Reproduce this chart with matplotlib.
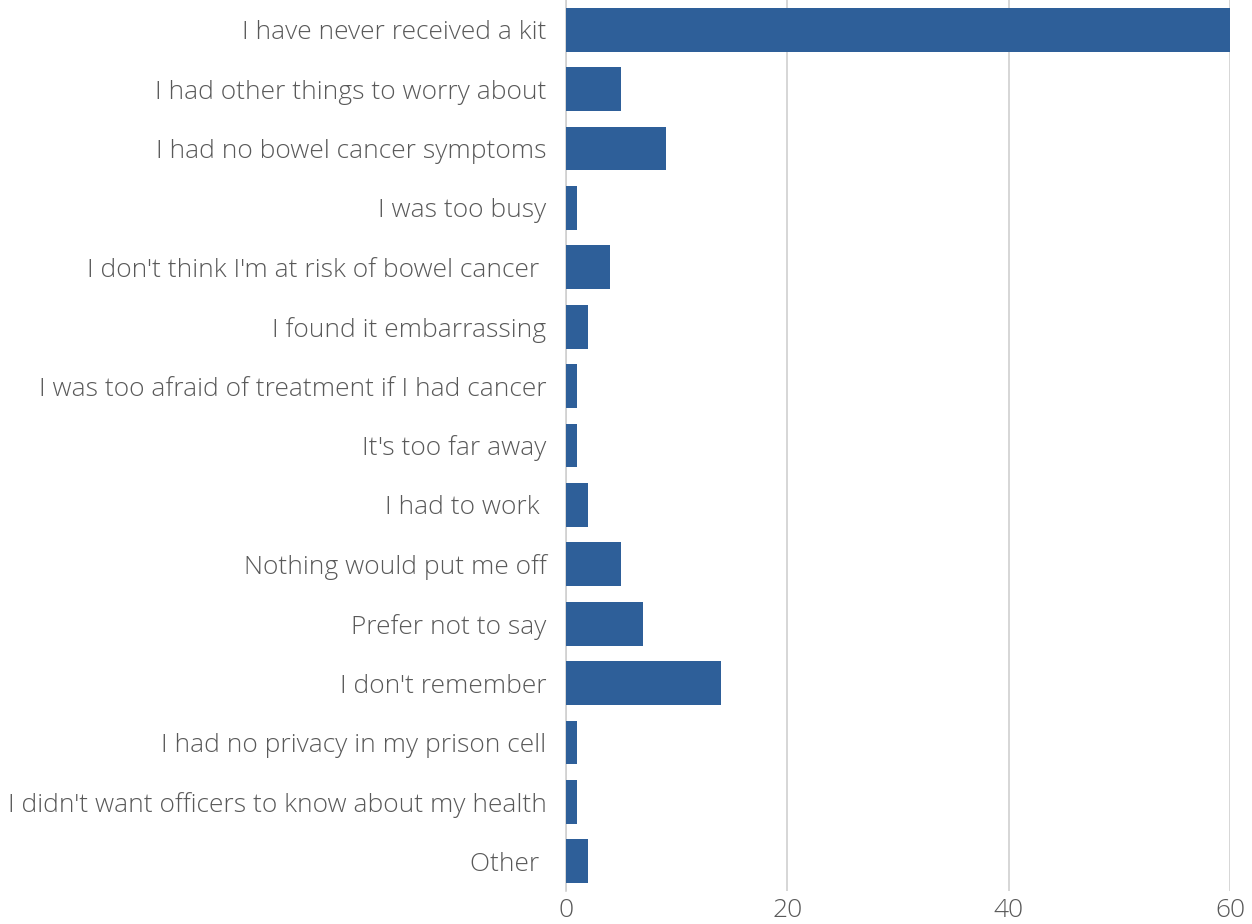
import matplotlib
matplotlib.use("Agg")
import matplotlib.pyplot as plt

reasons = [
    "I have never received a kit",
    "I had other things to worry about",
    "I had no bowel cancer symptoms",
    "I was too busy",
    "I don't think I'm at risk of bowel cancer ",
    "I found it embarrassing",
    "I was too afraid of treatment if I had cancer",
    "It's too far away",
    "I had to work ",
    "Nothing would put me off",
    "Prefer not to say",
    "I don't remember",
    "I had no privacy in my prison cell",
    "I didn't want officers to know about my health",
    "Other ",
]
counts = [60, 5, 9, 1, 4, 2, 1, 1, 2, 5, 7, 14, 1, 1, 2]
xticks = [0, 20, 40, 60]

plt.rcParams['font.family'] = ['Open Sans', 'DejaVu Sans']

fig = plt.figure(figsize=(12.52, 9.24), dpi=100)
ax = fig.add_axes([566 / 1252, 1 - 891 / 924, (1230 - 566) / 1252, 891 / 924])

ypos = list(range(len(reasons)))
ax.barh(ypos, counts, height=0.74, color="#2E5F99", zorder=3)

ax.set_ylim(len(reasons) - 0.5, -0.5)
ax.set_xlim(0, 60)
ax.set_yticks(ypos)
ax.set_yticklabels(reasons, fontsize=19, color="#595959", fontweight="light")
ax.set_xticks(xticks)
ax.set_xticklabels([str(v) for v in xticks], fontsize=19, color="#595959", fontweight="light")
ax.tick_params(axis="y", length=0, pad=14)
ax.tick_params(axis="x", length=0, pad=5)

ax.grid(axis="x", color="#D0D0D0", linewidth=1.2, zorder=0)
for s in ["top", "right", "bottom"]:
    ax.spines[s].set_visible(False)
ax.spines["left"].set_color("#D0D0D0")
ax.spines["left"].set_linewidth(1.2)

fig.savefig("out.png", dpi=100)
